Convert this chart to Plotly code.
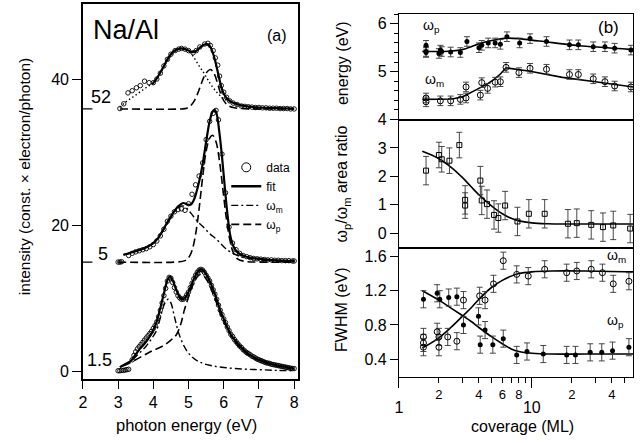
import plotly.graph_objects as go

FONT = "Liberation Sans, Arial, sans-serif"
W, H = 643, 443

# ---------------- panel (a): spectra (photon energy eV, intensity) ----------------
offsets = [0, 15, 36]          # vertical offsets of the 1.5, 5 and 52 ML spectra
cov_labels = ["1.5", "5", "52"]

spec15_data = [(3.0,0.1),(3.05,0.1),(3.1,0.15),(3.15,0.15),(3.2,0.2),(3.25,0.25),(3.3,0.3),
    (3.4,1.6),(3.45,2.2),(3.5,2.7),(3.55,3.1),(3.6,3.4),(3.65,3.7),(3.7,4.0),(3.75,4.3),(3.8,4.6),
    (3.85,4.9),(3.9,5.2),(3.95,5.5),(4.0,5.9),(4.05,6.3),(4.1,6.8),(4.15,7.5),(4.2,8.4),(4.25,9.4),
    (4.3,10.4),(4.35,11.4),(4.4,12.4),(4.45,12.9),(4.5,12.8),(4.55,12.2),(4.6,11.5),(4.65,10.9),
    (4.7,10.4),(4.75,10.1),(4.8,9.9),(4.85,9.9),(4.9,10.1),(4.95,10.5),(5.0,10.9),(5.05,11.5),
    (5.1,12.1),(5.15,12.7),(5.2,13.2),(5.25,13.6),(5.3,13.9),(5.35,14.0),(5.4,13.9),(5.45,13.6),
    (5.5,13.2),(5.55,12.8),(5.6,12.4),(5.65,11.8),(5.7,11.2),(5.75,10.6),(5.8,9.9),(5.85,9.1),
    (5.9,8.4),(5.95,7.8),(6.0,7.2),(6.05,6.7),(6.1,6.1),(6.15,5.6),(6.2,5.1),(6.25,4.8),(6.3,4.4),
    (6.35,4.1),(6.4,3.8),(6.45,3.5),(6.5,3.3),(6.55,3.0),(6.6,2.8),(6.65,2.6),(6.7,2.45),(6.75,2.3),
    (6.8,2.1),(6.85,2.0),(6.9,1.85),(6.95,1.7),(7.0,1.6),(7.05,1.5),(7.1,1.4),(7.15,1.3),(7.2,1.2),
    (7.25,1.15),(7.3,1.1),(7.35,1.0),(7.4,0.95),(7.45,0.9),(7.5,0.85),(7.55,0.8),(7.6,0.75),
    (7.65,0.7),(7.7,0.65),(7.75,0.6),(7.8,0.55),(7.85,0.5),(7.9,0.45),(7.95,0.4),(8.0,0.4)]
spec15_fit = [(3.05,0.6),(3.2,1.0),(3.35,1.4),(3.45,2.0),(3.6,3.0),(3.75,3.8),(3.9,4.8),(4.0,5.7),
    (4.1,6.9),(4.2,8.7),(4.3,10.7),(4.4,12.5),(4.47,13.0),(4.55,12.5),(4.65,11.2),(4.75,10.2),
    (4.82,9.9),(4.9,10.1),(5.0,10.9),(5.1,12.1),(5.2,13.2),(5.3,13.9),(5.36,14.0),(5.45,13.7),
    (5.6,12.4),(5.75,10.6),(5.9,8.4),(6.0,7.2),(6.2,5.1),(6.4,3.8),(6.6,2.8),(6.8,2.1),(7.0,1.6),
    (7.3,1.1),(7.6,0.75),(8.0,0.4)]
spec15_wm = [(3.05,0.6),(3.25,1.1),(3.43,1.7),(3.6,2.5),(3.8,3.5),(3.95,4.5),(4.08,5.5),(4.18,7.0),
    (4.25,8.3),(4.33,9.4),(4.42,9.9),(4.5,9.4),(4.6,7.5),(4.74,5.0),(4.93,3.0),(5.1,2.0),(5.31,1.3),
    (5.6,0.85),(6.0,0.55),(6.5,0.35),(7.0,0.25),(7.5,0.15),(8.0,0.1)]
spec15_wp = [(3.15,0.8),(3.3,1.1),(3.5,1.6),(3.8,2.4),(4.0,2.9),(4.27,3.5),(4.5,4.3),(4.65,5.0),
    (4.78,6.5),(4.88,8.4),(5.0,10.2),(5.1,11.6),(5.17,12.4),(5.25,13.0),(5.33,13.3),(5.4,13.2),
    (5.5,12.7),(5.6,11.8),(5.75,10.0),(5.9,8.0),(6.0,6.9),(6.2,5.0),(6.4,3.6),(6.6,2.7),(6.8,2.0),
    (7.0,1.5),(7.3,1.0),(7.6,0.7),(8.0,0.35)]

spec5_data = [(3.0,15.0),(3.05,15.0),(3.1,15.05),(3.3,15.9),(3.4,16.2),(3.5,16.4),(3.6,16.55),
    (3.7,16.7),(3.8,16.85),(3.9,17.1),(4.0,17.4),(4.1,17.9),(4.2,18.6),(4.3,19.5),(4.4,20.6),
    (4.5,21.3),(4.6,21.9),(4.7,22.2),(4.8,22.3),(4.9,22.1),(5.0,23.0),(5.1,24.3),(5.2,25.6),
    (5.3,26.8),(5.4,28.6),(5.5,31.8),(5.6,34.3),(5.7,35.4),(5.78,35.8),(5.85,34.5),(5.95,29.8),
    (6.05,24.5),(6.15,19.8),(6.25,17.6),(6.35,16.7),(6.45,16.2),(6.55,15.9),(6.65,15.75),(6.75,15.6),
    (6.85,15.5),(6.95,15.45),(7.05,15.4),(7.15,15.35),(7.25,15.3),(7.35,15.3),(7.45,15.25),
    (7.55,15.25),(7.65,15.2),(7.75,15.2),(7.85,15.2),(7.95,15.15),(8.0,15.15)]
spec5_fit = [(3.15,16.0),(3.3,16.2),(3.5,16.5),(3.75,16.9),(4.0,17.6),(4.15,18.4),(4.3,19.6),
    (4.45,20.9),(4.6,22.0),(4.72,22.7),(4.85,23.1),(4.97,22.9),(5.07,22.9),(5.15,23.5),(5.22,24.5),
    (5.3,26.0),(5.4,28.4),(5.5,31.5),(5.6,34.3),(5.68,35.6),(5.74,35.9),(5.8,35.3),(5.87,33.0),
    (5.95,29.5),(6.02,25.8),(6.1,21.8),(6.18,18.8),(6.27,17.2),(6.4,16.3),(6.6,15.8),(6.9,15.5),
    (7.3,15.3),(7.7,15.2),(8.0,15.15)]
spec5_wm = [(3.15,16.0),(3.5,16.5),(4.0,17.6),(4.3,19.5),(4.5,21.1),(4.65,22.2),(4.8,22.7),
    (4.9,22.6),(5.0,22.1),(5.1,21.5),(5.25,20.6),(5.4,19.9),(5.6,18.9),(5.8,18.1),(6.0,17.1),
    (6.15,16.5),(6.4,15.9),(6.7,15.5),(7.0,15.3),(7.5,15.15),(8.0,15.1)]
spec5_wp = [(3.0,15.0),(4.6,15.0),(4.9,15.2),(5.0,15.6),(5.1,16.6),(5.2,18.8),(5.3,22.3),(5.4,26.6),
    (5.5,30.2),(5.6,32.0),(5.68,32.4),(5.78,31.5),(5.88,28.8),(5.98,24.8),(6.08,20.8),(6.18,17.9),
    (6.28,16.2),(6.4,15.4),(6.6,15.1),(7.0,15.0),(8.0,15.0)]

spec52_data = [(3.05,36.05),(3.16,36.7),(3.28,38.2),(3.4,38.5),(3.52,38.9),(3.63,39.2),(3.75,39.8),
    (3.88,39.6),(4.0,39.6),(4.1,40.1),(4.2,40.9),(4.3,41.9),(4.4,42.8),(4.5,43.5),(4.62,44.0),
    (4.72,44.2),(4.8,44.3),(4.9,44.2),(5.0,44.0),(5.13,43.7),(5.22,44.0),(5.32,44.5),(5.46,44.9),
    (5.55,45.0),(5.62,44.7),(5.7,44.0),(5.76,43.0),(5.83,42.0),(5.88,40.5),(5.93,39.2),(6.0,38.3),
    (6.08,37.6),(6.17,37.1),(6.27,36.8),(6.38,36.6),(6.5,36.4),(6.6,36.35),(6.7,36.3),(6.8,36.25),
    (6.9,36.2),(7.0,36.2),(7.1,36.15),(7.2,36.15),(7.3,36.1),(7.4,36.1),(7.5,36.1),(7.6,36.05),
    (7.7,36.05),(7.8,36.05),(7.9,36.0),(8.0,36.0)]
spec52_fit = [(3.97,39.4),(4.1,40.2),(4.2,41.0),(4.3,41.9),(4.4,42.8),(4.5,43.5),(4.6,44.0),
    (4.7,44.2),(4.8,44.3),(4.9,44.2),(5.0,44.0),(5.1,43.8),(5.2,43.9),(5.3,44.3),(5.4,44.7),
    (5.5,44.9),(5.58,44.8),(5.66,44.1),(5.74,42.9),(5.82,41.3),(5.9,39.6),(5.98,38.3),(6.08,37.5),
    (6.2,37.0),(6.35,36.7),(6.6,36.4),(7.0,36.2),(7.5,36.1),(8.0,36.05)]
spec52_wm = [(3.05,36.2),(3.2,36.9),(3.35,37.4),(3.5,37.9),(3.7,38.6),(3.85,39.1),(4.0,39.5),
    (4.2,40.9),(4.4,42.6),(4.6,43.8),(4.75,44.2),(4.88,44.2),(5.0,43.9),(5.1,43.4),(5.2,42.7),
    (5.3,41.9),(5.4,41.2),(5.5,40.4),(5.6,39.6),(5.7,38.9),(5.8,38.3),(5.9,37.8),(6.0,37.4),
    (6.2,36.9),(6.4,36.5),(6.6,36.3),(6.8,36.2)]
spec52_wp = [(3.05,36.0),(4.8,36.0),(4.95,36.1),(5.05,36.4),(5.15,37.0),(5.25,38.0),(5.35,39.3),
    (5.45,40.5),(5.55,41.2),(5.63,41.4),(5.72,40.9),(5.8,39.9),(5.88,38.6),(5.96,37.5),(6.05,36.8),
    (6.15,36.4),(6.3,36.15),(6.5,36.05),(7.0,36.0),(8.0,36.0)]

# ---------------- panel (b): vs coverage (ML) ----------------
ep_cov = [1.6, 1.6, 1.6, 2.0, 2.05, 2.1, 2.45, 2.9, 3.25, 4.0, 4.2, 4.7, 5.3, 5.8, 6.5, 8.1, 9.7,
          12.9, 19.2, 22.4, 29, 35.5, 42, 55.7]
ep_val = [5.55, 5.40, 5.42, 5.38, 5.45, 5.42, 5.41, 5.40, 5.63, 5.50, 5.55, 5.60, 5.60, 5.57, 5.73,
          5.60, 5.69, 5.63, 5.56, 5.56, 5.52, 5.52, 5.49, 5.45]
ep_fit_cov = [1.5, 2.0, 2.5, 3.0, 3.5, 4.0, 5.0, 6.5, 8, 13, 23, 58]
ep_fit = [5.42, 5.42, 5.43, 5.46, 5.52, 5.58, 5.65, 5.70, 5.69, 5.62, 5.54, 5.46]

em_cov = [1.6, 1.6, 2.05, 2.45, 2.9, 3.2, 3.2, 4.1, 4.2, 4.65, 5.3, 5.8, 6.4, 8.0, 9.7, 12.9, 19.2,
          22.4, 29, 35.5, 42, 55.7]
em_val = [4.45, 4.37, 4.39, 4.39, 4.42, 4.68, 4.45, 4.51, 4.77, 4.65, 4.78, 4.79, 5.09, 4.98, 5.07,
          5.05, 4.94, 4.94, 4.85, 4.79, 4.70, 4.68]
em_fit_cov = [1.5, 2.0, 2.5, 3.0, 3.5, 4.0, 4.6, 5.2, 5.8, 6.4, 9.7, 17, 30, 58]
em_fit = [4.42, 4.42, 4.43, 4.47, 4.56, 4.65, 4.74, 4.84, 4.95, 5.08, 5.01, 4.88, 4.79, 4.68]
energy_err = 0.1

ratio_cov = [1.6, 2.0, 2.1, 2.4, 2.85, 3.15, 3.15, 4.1, 4.2, 4.6, 5.2, 5.6, 6.3, 7.8, 9.5, 12.5,
             18.7, 21.8, 28, 34.3, 41, 55]
ratio_val = [2.2, 2.75, 2.6, 2.55, 3.1, 1.17, 0.97, 1.85, 1.15, 1.02, 0.64, 0.53, 0.97, 0.41, 0.68,
             0.68, 0.33, 0.35, 0.29, 0.21, 0.27, 0.16]
ratio_err = [0.5, 0.45, 0.45, 0.45, 0.45, 0.5, 0.45, 0.5, 0.5, 0.5, 0.5, 0.5, 0.5, 0.5, 0.5, 0.5,
             0.5, 0.5, 0.5, 0.5, 0.5, 0.5]
ratio_fit_cov = [1.5, 2.0, 2.5, 3.0, 3.5, 4.0, 5.0, 6.0, 7.0, 8.0, 10, 13, 20, 58]
ratio_fit = [2.88, 2.62, 2.3, 1.96, 1.63, 1.35, 0.95, 0.68, 0.52, 0.43, 0.36, 0.33, 0.32, 0.32]

fm_cov = [1.53, 1.53, 1.53, 1.94, 2.0, 2.0, 2.33, 2.73, 3.06, 4.05, 4.45, 5.15, 6.1, 7.7, 9.4, 12.5,
          18.3, 21.8, 28, 34, 41, 53.8]
fm_val = [0.66, 0.59, 0.54, 0.72, 0.66, 0.54, 0.66, 0.61, 1.09, 1.14, 1.09, 1.28, 1.55, 1.39, 1.37,
          1.45, 1.41, 1.43, 1.45, 1.41, 1.28, 1.31]
fp_cov = [1.53, 1.94, 2.03, 2.37, 2.73, 3.06, 3.97, 4.09, 4.45, 5.09, 6.1, 7.7, 9.2, 12.2, 18.3, 21.3,
          27.5, 33.6, 40.5, 53.8]
fp_val = [1.10, 1.17, 1.10, 1.12, 1.13, 0.80, 0.90, 0.57, 0.74, 0.57, 0.64, 0.45, 0.49, 0.46, 0.45,
          0.45, 0.48, 0.48, 0.50, 0.54]
fwhm_fit_cov = [1.5, 2.0, 2.5, 3.0, 3.5, 4.0, 5.0, 6.0, 7.0, 8.0, 10, 14, 25, 58]
fm_fit = [0.53, 0.65, 0.78, 0.90, 1.0, 1.1, 1.24, 1.32, 1.37, 1.40, 1.42, 1.43, 1.43, 1.42]
fp_fit = [1.2, 1.09, 0.99, 0.91, 0.84, 0.77, 0.66, 0.58, 0.52, 0.49, 0.47, 0.46, 0.46, 0.46]
fwhm_err = 0.1

cov_ticks = [2, 3, 4, 5, 6, 7, 8, 9, 20, 30, 40, 50]
cov_ticktext = ["2", "", "4", "", "6", "", "8", "", "2", "", "4", ""]


def xs(pairs):
    return [p[0] for p in pairs]


def ys(pairs):
    return [p[1] for p in pairs]


def px(x):
    return x / W


def py(y):
    return 1 - y / H


BLACK = "black"
DASH = "8px,4px"
DASHDOT = "7px,3px,2px,3px"
DOT = "1.5px,2.5px"

fig = go.Figure()

spectra = [
    (spec15_data, spec15_fit, spec15_wm, spec15_wp, DASHDOT),
    (spec5_data, spec5_fit, spec5_wm, spec5_wp, DASHDOT),
    (spec52_data, spec52_fit, spec52_wm, spec52_wp, DOT),
]
for data, fit, wm, wp, wm_dash in spectra:
    fig.add_trace(go.Scatter(x=xs(wm), y=ys(wm), mode="lines", line=dict(color=BLACK, width=1.4, dash=wm_dash, shape="spline"),
                             xaxis="x", yaxis="y", showlegend=False, hoverinfo="skip"))
    fig.add_trace(go.Scatter(x=xs(wp), y=ys(wp), mode="lines", line=dict(color=BLACK, width=1.6, dash=DASH, shape="spline"),
                             xaxis="x", yaxis="y", showlegend=False, hoverinfo="skip"))
    fig.add_trace(go.Scatter(x=xs(fit), y=ys(fit), mode="lines", line=dict(color=BLACK, width=2.2, shape="spline"),
                             xaxis="x", yaxis="y", showlegend=False, hoverinfo="skip"))
    fig.add_trace(go.Scatter(x=xs(data), y=ys(data), mode="markers",
                             marker=dict(symbol="circle-open", size=4.5, color=BLACK, line=dict(width=0.9)),
                             xaxis="x", yaxis="y", showlegend=False, hoverinfo="skip"))

# baseline markers of the offset spectra at the left frame
for off in offsets[1:]:
    fig.add_trace(go.Scatter(x=[2.0, 2.27], y=[off, off], mode="lines", line=dict(color=BLACK, width=1.2),
                             xaxis="x", yaxis="y", showlegend=False, hoverinfo="skip"))

# legend entries
fig.add_trace(go.Scatter(x=[None], y=[None], mode="markers", name="data",
                         marker=dict(symbol="circle-open", size=9, color=BLACK, line=dict(width=1)), xaxis="x", yaxis="y"))
fig.add_trace(go.Scatter(x=[None], y=[None], mode="lines", name="fit", line=dict(color=BLACK, width=2.5), xaxis="x", yaxis="y"))
fig.add_trace(go.Scatter(x=[None], y=[None], mode="lines", name="ω<sub>m</sub>", line=dict(color=BLACK, width=1.4, dash=DASHDOT), xaxis="x", yaxis="y"))
fig.add_trace(go.Scatter(x=[None], y=[None], mode="lines", name="ω<sub>p</sub>", line=dict(color=BLACK, width=1.6, dash=DASH), xaxis="x", yaxis="y"))

# ---------- panel (b) traces ----------
def err(arr_or_val, n):
    if isinstance(arr_or_val, list):
        return arr_or_val
    return [arr_or_val] * n

EB = dict(type="data", thickness=0.9, width=3, color="#333")
OPEN = dict(symbol="circle-open", size=6, color=BLACK, line=dict(width=1))
FILLED = dict(symbol="circle", size=5, color=BLACK)

# top: energies
fig.add_trace(go.Scatter(x=ep_fit_cov, y=ep_fit, mode="lines", line=dict(color=BLACK, width=1.6, shape="spline", smoothing=0.5),
                         xaxis="x4", yaxis="y4", showlegend=False, hoverinfo="skip"))
fig.add_trace(go.Scatter(x=em_fit_cov, y=em_fit, mode="lines", line=dict(color=BLACK, width=1.6),
                         xaxis="x4", yaxis="y4", showlegend=False, hoverinfo="skip"))
fig.add_trace(go.Scatter(x=ep_cov, y=ep_val, mode="markers", marker=FILLED,
                         error_y=dict(array=err(energy_err, len(ep_val)), **EB),
                         xaxis="x4", yaxis="y4", showlegend=False, hoverinfo="skip"))
fig.add_trace(go.Scatter(x=em_cov, y=em_val, mode="markers", marker=OPEN,
                         error_y=dict(array=err(energy_err, len(em_val)), **EB),
                         xaxis="x4", yaxis="y4", showlegend=False, hoverinfo="skip"))

# middle: area ratio
fig.add_trace(go.Scatter(x=ratio_fit_cov, y=ratio_fit, mode="lines", line=dict(color=BLACK, width=1.6, shape="spline"),
                         xaxis="x3", yaxis="y3", showlegend=False, hoverinfo="skip"))
fig.add_trace(go.Scatter(x=ratio_cov, y=ratio_val, mode="markers",
                         marker=dict(symbol="square-open", size=5, color=BLACK, line=dict(width=1)),
                         error_y=dict(array=ratio_err, **EB),
                         xaxis="x3", yaxis="y3", showlegend=False, hoverinfo="skip"))

# bottom: FWHM
fig.add_trace(go.Scatter(x=fwhm_fit_cov, y=fm_fit, mode="lines", line=dict(color=BLACK, width=1.6, shape="spline"),
                         xaxis="x2", yaxis="y2", showlegend=False, hoverinfo="skip"))
fig.add_trace(go.Scatter(x=fwhm_fit_cov, y=fp_fit, mode="lines", line=dict(color=BLACK, width=1.6, shape="spline"),
                         xaxis="x2", yaxis="y2", showlegend=False, hoverinfo="skip"))
fig.add_trace(go.Scatter(x=fm_cov, y=fm_val, mode="markers", marker=OPEN,
                         error_y=dict(array=err(fwhm_err, len(fm_val)), **EB),
                         xaxis="x2", yaxis="y2", showlegend=False, hoverinfo="skip"))
fig.add_trace(go.Scatter(x=fp_cov, y=fp_val, mode="markers", marker=FILLED,
                         error_y=dict(array=err(fwhm_err, len(fp_val)), **EB),
                         xaxis="x2", yaxis="y2", showlegend=False, hoverinfo="skip"))
fig.add_trace(go.Scatter(x=[1], y=[None], mode="markers", xaxis="x5", yaxis="y2", showlegend=False, hoverinfo="skip"))

TICKFONT = dict(size=16, color=BLACK, family=FONT)
AX = dict(showline=True, linecolor=BLACK, linewidth=1.5, mirror=True, showgrid=False, zeroline=False,
          ticks="outside", tickcolor=BLACK, tickwidth=1.2, tickfont=TICKFONT)
AXB = dict(AX, linewidth=1.0)

cov_range = [0, 1.762]
xdom_b = [px(398), px(634)]

fig.update_layout(
    width=W, height=H, margin=dict(l=0, r=0, t=0, b=0),
    paper_bgcolor="white", plot_bgcolor="white",
    font=dict(family=FONT, color=BLACK),
    xaxis=dict(AX, domain=[px(79.5), px(296)], range=[2, 8.1], tickvals=[2, 3, 4, 5, 6, 7, 8], ticklen=8, anchor="y"),
    yaxis=dict(AX, domain=[py(387), py(4)], range=[-1.05, 50.4], tickvals=[0, 20, 40], ticklen=9, anchor="x"),
    xaxis2=dict(AXB, domain=xdom_b, type="log", range=cov_range, anchor="y2",
                tickvals=cov_ticks, ticktext=cov_ticktext, ticklen=5, tickfont=dict(size=13, color=BLACK, family=FONT)),
    yaxis2=dict(AXB, domain=[py(385), py(253)], range=[0.19, 1.70], tickvals=[0.4, 0.8, 1.2, 1.6],
                ticktext=["0.4", "0.8", "1.2", "1.6"], ticklen=8, anchor="x2"),
    xaxis3=dict(AXB, domain=xdom_b, type="log", range=cov_range, anchor="y3", ticks="", showticklabels=False),
    yaxis3=dict(AXB, domain=[py(253), py(122)], range=[-0.52, 4.0], tickvals=[0, 1, 2, 3], ticklen=8, anchor="x3"),
    xaxis4=dict(AXB, domain=xdom_b, type="log", range=cov_range, anchor="y4", ticks="", showticklabels=False),
    yaxis4=dict(AXB, domain=[py(122), py(14)], range=[4, 6.21], tickvals=[4, 5, 6], ticklen=8, anchor="x4",
                minor=dict(dtick=0.2, ticks="outside", ticklen=4, tickcolor=BLACK, tickwidth=1)),
    xaxis5=dict(overlaying="x2", anchor="y2", side="bottom", type="log", range=cov_range,
                tickvals=[1, 10], ticktext=["1", "10"], ticks="outside", ticklen=10, tickwidth=1.2, tickcolor=BLACK,
                ticklabelstandoff=6, showline=False, showgrid=False, zeroline=False, tickfont=TICKFONT),
    legend=dict(x=px(224), y=py(156), xanchor="left", yanchor="top", bgcolor="rgba(0,0,0,0)",
                font=dict(size=12, color=BLACK, family=FONT), itemwidth=30, tracegroupgap=0),
    showlegend=True,
)

def note(text, x, y, size, angle=0):
    fig.add_annotation(text=text, x=px(x), y=py(y), xref="paper", yref="paper", showarrow=False,
                       font=dict(size=size, color=BLACK, family=FONT), textangle=angle,
                       xanchor="center", yanchor="middle")

note("Na/Al", 123, 31, 27)
note("(a)", 275, 36, 16)
note(cov_labels[2], 98, 99, 18)
note(cov_labels[1], 100, 259, 18)
note(cov_labels[0], 96, 367, 18)
note("intensity (const. × electron/photon)", 21, 180, 15.5, -90)
note("photon energy (eV)", 184, 434, 16.5)

note("ω<sub>p</sub>", 431, 27, 14)
note("(b)", 609, 28, 17)
note("ω<sub>m</sub>", 434, 82, 14)
note("ω<sub>m</sub>", 617, 261, 14)
note("ω<sub>p</sub>", 616, 328, 14)
note("energy (eV)", 341, 64, 16, -90)
note("ω<sub>p</sub>/ω<sub>m</sub> area ratio", 341, 188, 16, -90)
note("FWHM (eV)", 340, 316, 16, -90)
note("coverage (ML)", 523, 435, 16)

fig.write_html("out.html")
